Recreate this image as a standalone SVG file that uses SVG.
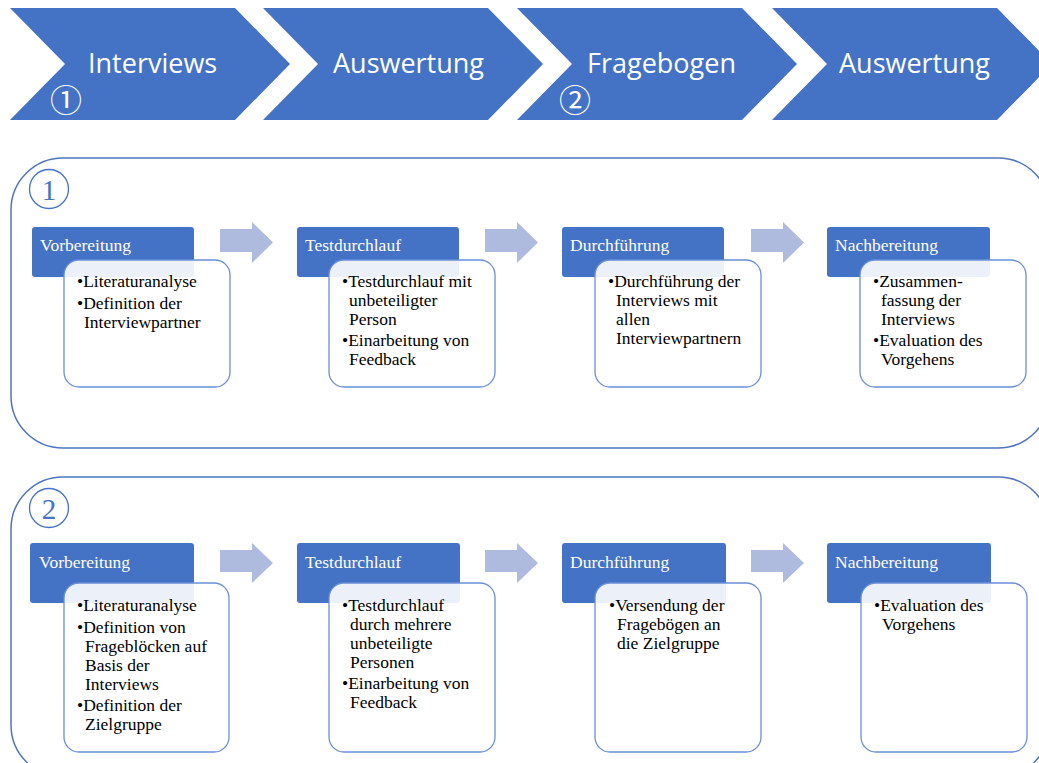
<svg xmlns="http://www.w3.org/2000/svg" width="1039" height="763" viewBox="0 0 1039 763">
<defs>
<style>
.chev{fill:#4472C4;}
.chevt{fill:#fff;font-family:"Open Sans","Liberation Sans",sans-serif;font-size:27px;}
.circ{fill:#fff;font-family:"Noto Sans CJK JP",sans-serif;font-size:32px;}
.panel{fill:none;stroke:#4F74BE;stroke-width:1.5;}
.num{fill:none;stroke:#4472C4;stroke-width:1.3;}
.numt{fill:#4472C4;font-family:"Liberation Serif",serif;font-size:29px;text-anchor:middle;}
.hdr{fill:#4472C4;}
.hdrt{fill:#fff;font-family:"Liberation Serif",serif;font-size:17.5px;}
.box{fill:#fff;fill-opacity:0.9;stroke:#6A8FD6;stroke-width:1.3;}
.bt{fill:#000;font-family:"Liberation Serif",serif;font-size:17.5px;}
.arr{fill:#AEBBDF;}
</style>
</defs>
<g id="chevrons">
<g id="chev1"><path class="chev" d="M10,8 L235,8 L290,64 L235,120 L10,120 L65,64 Z"/><text class="chevt" x="88" y="73">Interviews</text><text class="circ" x="50" y="112">①</text></g>
<g id="chev2"><path class="chev" d="M263,8 L488,8 L543,64 L488,120 L263,120 L318,64 Z"/><text class="chevt" x="333" y="73">Auswertung</text></g>
<g id="chev3"><path class="chev" d="M517,8 L742,8 L797,64 L742,120 L517,120 L572,64 Z"/><text class="chevt" x="587" y="73">Fragebogen</text><text class="circ" x="559" y="112">②</text></g>
<g id="chev4"><path class="chev" d="M772,8 L997,8 L1052,64 L997,120 L772,120 L827,64 Z"/><text class="chevt" x="839" y="73">Auswertung</text></g>
</g>

<g id="panel1">
<rect class="panel" x="11" y="158" width="1039" height="290" rx="52" ry="52"/>
<circle class="num" cx="49" cy="189" r="19.5"/><text class="numt" x="49" y="200">1</text>
</g>
<g id="panel2">
<rect class="panel" x="11" y="477" width="1039" height="300" rx="52" ry="52"/>
<circle class="num" cx="49" cy="508" r="19.5"/><text class="numt" x="49" y="519">2</text>
</g>

<g id="connectors">
<path class="arr" d="M220,229 H252 V222 L273,242.5 L252,263 V252 H220 Z"/>
<path class="arr" d="M485,229 H517 V222 L538,242.5 L517,263 V252 H485 Z"/>
<path class="arr" d="M751,229 H783 V222 L804,242.5 L783,263 V252 H751 Z"/>
<path class="arr" d="M220,550 H252 V543 L273,563 L252,583 V572 H220 Z"/>
<path class="arr" d="M485,550 H517 V543 L538,563 L517,583 V572 H485 Z"/>
<path class="arr" d="M751,550 H783 V543 L804,563 L783,583 V572 H751 Z"/>
</g>

<g id="p1-vorbereitung">
<rect class="hdr" x="32" y="227" width="162" height="50" rx="3"/>
<text class="hdrt" x="40" y="251">Vorbereitung</text>
<rect class="box" x="64" y="260" width="166" height="127" rx="15"/>
<text class="bt"><tspan x="77" y="287">•Literaturanalyse</tspan><tspan x="77" y="309">•Definition  der</tspan><tspan x="84" y="328">Interviewpartner</tspan></text>
</g>
<g id="p1-testdurchlauf">
<rect class="hdr" x="297" y="227" width="162" height="50" rx="3"/>
<text class="hdrt" x="305" y="251">Testdurchlauf</text>
<rect class="box" x="329" y="260" width="166" height="127" rx="15"/>
<text class="bt"><tspan x="342" y="287">•Testdurchlauf mit</tspan><tspan x="349" y="306">unbeteiligter</tspan><tspan x="349" y="325">Person</tspan><tspan x="342" y="346">•Einarbeitung  von</tspan><tspan x="349" y="365">Feedback</tspan></text>
</g>
<g id="p1-durchfuehrung">
<rect class="hdr" x="562" y="227" width="162" height="50" rx="3"/>
<text class="hdrt" x="570" y="251">Durchführung</text>
<rect class="box" x="595" y="260" width="166" height="127" rx="15"/>
<text class="bt"><tspan x="608" y="287">•Durchführung der</tspan><tspan x="616" y="306">Interviews mit</tspan><tspan x="616" y="325">allen</tspan><tspan x="616" y="344">Interviewpartnern</tspan></text>
</g>
<g id="p1-nachbereitung">
<rect class="hdr" x="827" y="227" width="163" height="50" rx="3"/>
<text class="hdrt" x="835" y="251">Nachbereitung</text>
<rect class="box" x="860" y="260" width="166" height="127" rx="15"/>
<text class="bt"><tspan x="873" y="287">•Zusammen-</tspan><tspan x="881" y="306">fassung der</tspan><tspan x="881" y="325">Interviews</tspan><tspan x="873" y="346">•Evaluation  des</tspan><tspan x="881" y="365">Vorgehens</tspan></text>
</g>

<g id="p2-vorbereitung">
<rect class="hdr" x="30" y="543" width="164" height="60" rx="3"/>
<text class="hdrt" x="39" y="568">Vorbereitung</text>
<rect class="box" x="64" y="583" width="165" height="169" rx="15"/>
<text class="bt"><tspan x="77" y="611">•Literaturanalyse</tspan><tspan x="77" y="633">•Definition  von</tspan><tspan x="85" y="652">Frageblöcken auf</tspan><tspan x="85" y="671">Basis der</tspan><tspan x="85" y="690">Interviews</tspan><tspan x="77" y="711">•Definition  der</tspan><tspan x="85" y="730">Zielgruppe</tspan></text>
</g>
<g id="p2-testdurchlauf">
<rect class="hdr" x="297" y="543" width="163" height="60" rx="3"/>
<text class="hdrt" x="305" y="568">Testdurchlauf</text>
<rect class="box" x="329" y="583" width="166" height="169" rx="15"/>
<text class="bt"><tspan x="342" y="611">•Testdurchlauf</tspan><tspan x="350" y="630">durch mehrere</tspan><tspan x="350" y="649">unbeteiligte</tspan><tspan x="350" y="668">Personen</tspan><tspan x="342" y="689">•Einarbeitung  von</tspan><tspan x="350" y="708">Feedback</tspan></text>
</g>
<g id="p2-durchfuehrung">
<rect class="hdr" x="562" y="543" width="164" height="60" rx="3"/>
<text class="hdrt" x="570" y="568">Durchführung</text>
<rect class="box" x="595" y="583" width="166" height="169" rx="15"/>
<text class="bt"><tspan x="609" y="611">•Versendung der</tspan><tspan x="617" y="630">Fragebögen an</tspan><tspan x="617" y="649">die Zielgruppe</tspan></text>
</g>
<g id="p2-nachbereitung">
<rect class="hdr" x="827" y="543" width="164" height="60" rx="3"/>
<text class="hdrt" x="835" y="568">Nachbereitung</text>
<rect class="box" x="861" y="583" width="166" height="169" rx="15"/>
<text class="bt"><tspan x="874" y="611">•Evaluation  des</tspan><tspan x="882" y="630">Vorgehens</tspan></text>
</g>
</svg>
